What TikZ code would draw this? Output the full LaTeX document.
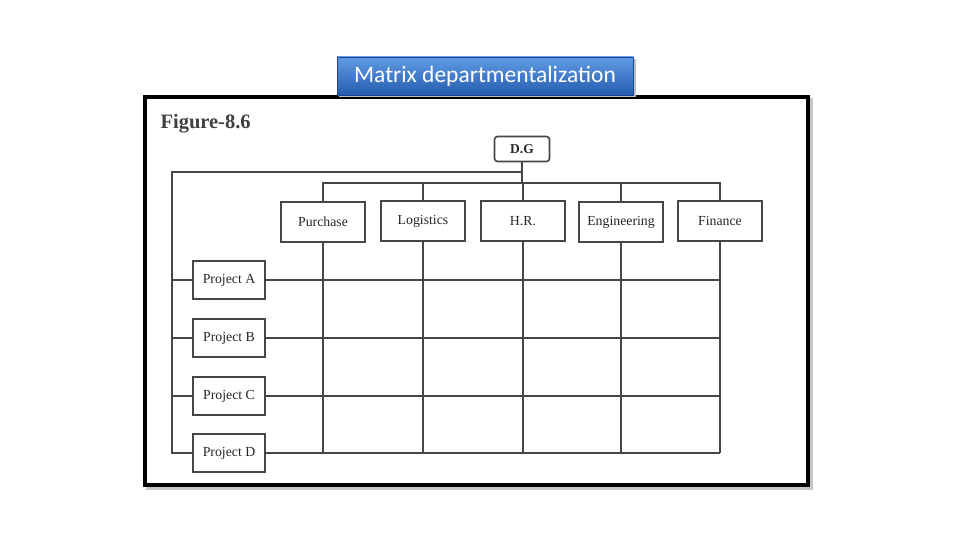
\documentclass[tikz,border=0pt]{standalone}
\usepackage{fontspec}
\setmainfont{Liberation Serif}
\newfontfamily\titlefont{Carlito}
\usepackage{tikz}
\usetikzlibrary{positioning,calc}
\definecolor{mlink}{RGB}{70,70,70}
\definecolor{mltitletop}{RGB}{96,156,228}
\definecolor{mltitlebot}{RGB}{38,92,176}
\definecolor{mltitleedge}{RGB}{30,70,140}

\begin{document}
\begin{tikzpicture}[x=1pt, y=-1pt,
  unitbox/.style={draw=mlink, line width=1.6pt, rectangle, fill=white, text=black!85, font=\fontsize{13.8}{15}\selectfont},
  dept/.style={unitbox, minimum width=84pt, minimum height=40pt},
  proj/.style={unitbox, minimum width=72pt, minimum height=38pt},
  link/.style={draw=mlink, line width=1.4pt}]
  \useasboundingbox (0,0) rectangle (960,540);
  % Frame with shadow
  \draw[gray!45, line width=4pt] (148,100) rectangle (811,488);
  \draw[black, line width=4pt, fill=white] (145,97) rectangle (808,485);
  % Title bar
  \fill[gray!50] (339,59) rectangle (636,97);
  \node[draw=mltitleedge, rectangle, top color=mltitletop, bottom color=mltitlebot, minimum width=296pt, minimum height=38pt, text=white, font=\titlefont\fontsize{23.5}{26}\selectfont] (title) at (485,76) {Matrix departmentalization};
  \node[font=\bfseries\fontsize{20.5}{23}\selectfont, text=black!75, anchor=west] (fig) at (157,124) {Figure-8.6};

  % Top of the chart
  \node[unitbox, rounded corners=3pt, minimum width=55pt, minimum height=25pt, font=\bfseries\fontsize{13.5}{15}\selectfont] (dg) at (522,149) {D.G};
  \node[dept] (pur) at (323,222) {Purchase};
  \node[dept] (log) at (423,221) {Logistics};
  \node[dept] (hr) at (523,221) {H.R.};
  \node[dept] (eng) at (621,222) {Engineering};
  \node[dept] (fin) at (720,221) {Finance};

  % Projects
  \node[proj] (pa) at (229,280) {Project A};
  \node[proj] (pb) at (229,338) {Project B};
  \node[proj] (pc) at (229,396) {Project C};
  \node[proj] (pd) at (229,453) {Project D};

  \coordinate (bar) at (522,183);
  \coordinate (lft) at (172,172);

  % Functional lines
  \draw[link] (dg.south) -- (dg.south |- bar);
  \draw[link] (pur.north) |- (fin.north |- bar) -- (fin.north);
  \foreach \d in {log,hr,eng} {
    \draw[link] (\d.north) -- (\d.north |- bar);
  }
  \foreach \d in {pur,log,hr,eng,fin} {
    \draw[link] (\d.south) -- (\d.south |- pd.east);
  }

  % Project lines
  \draw[link] (dg.south |- lft) -- (lft) -- (lft |- pd.west) -- (pd.west);
  \foreach \p in {pa,pb,pc} {
    \draw[link] (lft |- \p.west) -- (\p.west);
  }
  \foreach \p in {pa,pb,pc,pd} {
    \draw[link] (\p.east) -- (\p.east -| fin.south);
  }
\end{tikzpicture}
\end{document}
